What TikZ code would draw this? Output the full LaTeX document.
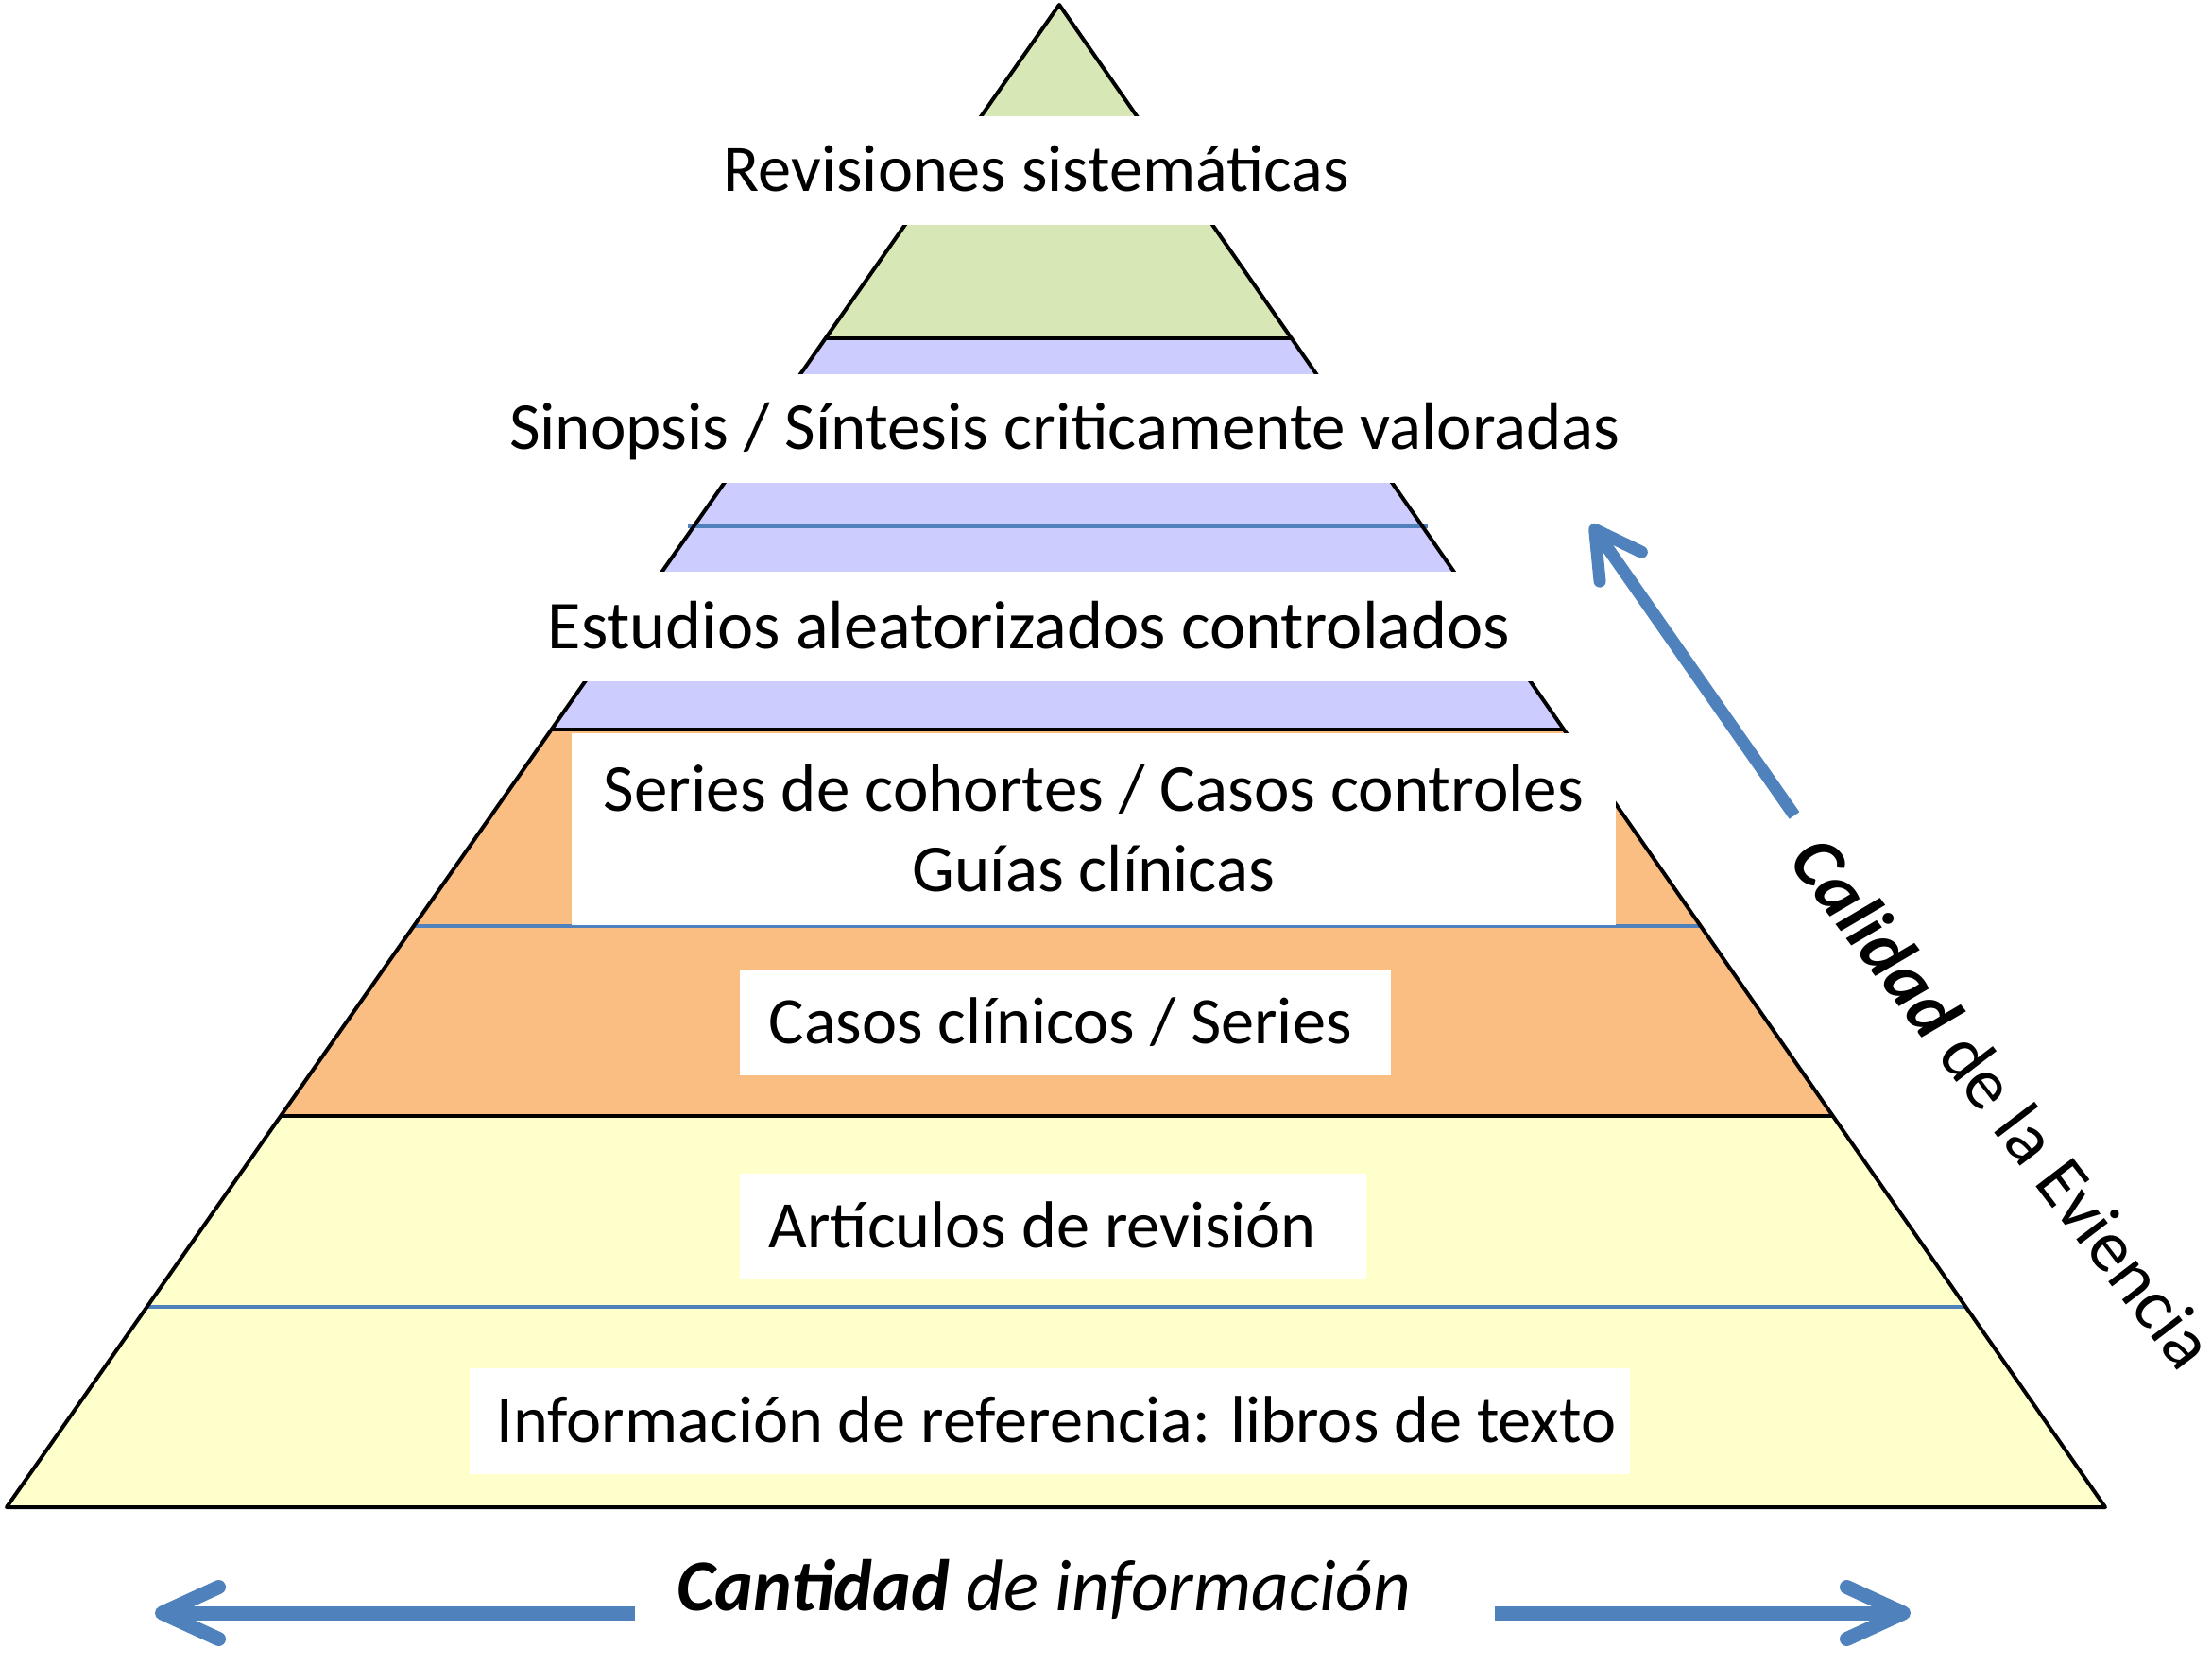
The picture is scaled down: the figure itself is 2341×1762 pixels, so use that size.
\documentclass[tikz,border=0pt]{standalone}
\usepackage{fontspec}
\setmainfont{Carlito}
\usetikzlibrary{calc,arrows.meta}
\definecolor{lgreen}{HTML}{D7E8B6}
\definecolor{lblue}{HTML}{CCCCFF}
\definecolor{lorange}{HTML}{FBBE82}
\definecolor{lyellow}{HTML}{FFFFCC}
\definecolor{oblue}{HTML}{4F81BD}
\begin{document}
\begin{tikzpicture}[x=0.1mm,y=-0.1mm,
  edgeline/.style={black, line width=0.4mm, line join=round},
  sepline/.style={oblue, line width=0.4mm},
  band/.style={fill=white, inner ysep=0pt, font=\fontsize{20}{24}\selectfont, text height=12.8pt, text depth=0pt},
  textbox/.style={fill=white, inner ysep=0pt, inner xsep=3.1mm, anchor=west, minimum height=11.2mm, font=\fontsize{20}{24}\selectfont, text height=12.8pt, text depth=0pt},
  axislabel/.style={font=\fontsize{22}{26}\selectfont, inner sep=0pt, text height=14.1pt, text depth=0pt},
  harrow/.style={oblue, line width=1.5mm, -{Straight Barb[length=6mm,width=5.5mm,round]}},
  varrow/.style={oblue, line width=1.3mm, -{Straight Barb[length=4.8mm,width=5.4mm,round]}}
]
\useasboundingbox (0,0) rectangle (2341,1762);
% pyramid corners
\coordinate (A) at (1121,5);
\coordinate (BL) at (7,1595);
\coordinate (BR) at (2228,1595);
\foreach \n/\t in {1/0.2220,2/0.4824,3/0.7396,b1/0.3472,b2/0.6132,b3/0.8667}{
  \coordinate (L\n) at ($(A)!\t!(BL)$);
  \coordinate (R\n) at ($(A)!\t!(BR)$);
}
% layers
\fill[lgreen] (A) -- (L1) -- (R1) -- cycle;
\fill[lblue] (L1) -- (L2) -- (R2) -- (R1) -- cycle;
\fill[lorange] (L2) -- (L3) -- (R3) -- (R2) -- cycle;
\fill[lyellow] (L3) -- (BL) -- (BR) -- (R3) -- cycle;
% thin blue separators
\draw[sepline] ($(Lb1)+(-6,0)$) -- ($(Rb1)+(6,0)$);
\draw[sepline] (Lb2) -- (Rb2);
\draw[sepline] (Lb3) -- (Rb3);
% black outlines
\draw[edgeline] (A) -- (BL) -- (BR) -- cycle;
\draw[edgeline] (L1) -- (R1);
\draw[edgeline] (L2) -- (R2);
\draw[edgeline] (L3) -- (R3);
% text bands and boxes
\node[band, inner xsep=2mm, minimum height=11.5mm] (rev) at (1097,180) {Revisiones sistemáticas};
\node[band, inner xsep=2mm, minimum height=11.5mm, font=\fontsize{20.2}{24}\selectfont] (sin) at (1127,453.5) {Sinopsis / Síntesis criticamente valoradas};
\node[band, inner xsep=3mm, minimum height=11.6mm, font=\fontsize{20.6}{24}\selectfont, text height=13.2pt] (est) at (1089,663) {Estudios aleatorizados controlados};
\node[fill=white, inner sep=0pt, minimum width=110.5mm, minimum height=20.3mm, align=center,
      font=\fontsize{20.2}{24.2}\selectfont] (ser) at (1157.5,877) {Series de cohortes / Casos controles\\Guías clínicas};
\node[textbox] (cas) at (782,1082) {\makebox[62.7mm][l]{Casos clínicos / Series}};
\node[textbox] (art) at (782,1298) {\makebox[60.1mm][l]{Artículos de revisión}};
\node[textbox, inner xsep=2.9mm] (inf) at (496,1504) {\makebox[117mm][l]{Información de referencia: libros de texto}};
% axis labels
\node[axislabel] (cant) at (1105,1680) {\itshape\textbf{Cantidad} de información};
\node[axislabel, rotate=-52.6] (cal) at (2119,1168) {\textbf{\itshape Calidad} de la Eviencia};
% arrows
\coordinate (qt) at (1899,863);
\coordinate (qh) at (1684,555);
\draw[varrow] (qt) -- (qh);
\coordinate (lt) at (672,1707);
\coordinate (lh) at (164,1707);
\coordinate (rt) at (1582,1707);
\coordinate (rh) at (2022,1707);
\draw[harrow] (lt) -- (lh);
\draw[harrow] (rt) -- (rh);
\end{tikzpicture}
\end{document}
